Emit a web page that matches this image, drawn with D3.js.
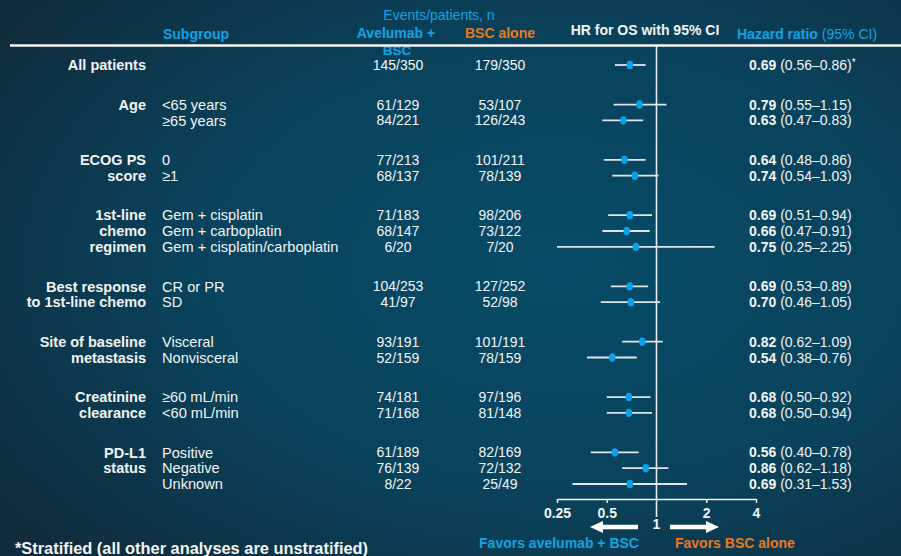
<!DOCTYPE html>
<html>
<head>
<meta charset="utf-8">
<script src="https://cdn.jsdelivr.net/npm/d3@7"></script>
<style>
  html, body { margin: 0; padding: 0; background: #0c3348; }
  svg { display: block; }
  text { font-family: "Liberation Sans", Arial, sans-serif; }
</style>
</head>
<body>
<div id="chart"></div>
<script>
// Forest plot: overall survival hazard ratios by subgroup

const groupLabels = [
  ["All patients"],
  ["Age"],
  ["ECOG PS", "score"],
  ["1st-line", "chemo", "regimen"],
  ["Best response", "to 1st-line chemo"],
  ["Site of baseline", "metastasis"],
  ["Creatinine", "clearance"],
  ["PD-L1", "status"]
];

const rowGroup = [0, 1, 1, 2, 2, 3, 3, 3, 4, 4, 5, 5, 6, 6, 7, 7, 7];

const categories = [
  "", "<65 years", "≥65 years", "0", "≥1",
  "Gem + cisplatin", "Gem + carboplatin", "Gem + cisplatin/carboplatin",
  "CR or PR", "SD", "Visceral", "Nonvisceral",
  "≥60 mL/min", "<60 mL/min", "Positive", "Negative", "Unknown"
];

const avelumabEvents = [
  "145/350", "61/129", "84/221", "77/213", "68/137",
  "71/183", "68/147", "6/20", "104/253", "41/97",
  "93/191", "52/159", "74/181", "71/168", "61/189", "76/139", "8/22"
];

const bscEvents = [
  "179/350", "53/107", "126/243", "101/211", "78/139",
  "98/206", "73/122", "7/20", "127/252", "52/98",
  "101/191", "78/159", "97/196", "81/148", "82/169", "72/132", "25/49"
];

const hazardRatio = [0.69, 0.79, 0.63, 0.64, 0.74, 0.69, 0.66, 0.75, 0.69, 0.70, 0.82, 0.54, 0.68, 0.68, 0.56, 0.86, 0.69];
const ciLower     = [0.56, 0.55, 0.47, 0.48, 0.54, 0.51, 0.47, 0.25, 0.53, 0.46, 0.62, 0.38, 0.50, 0.50, 0.40, 0.62, 0.31];
const ciUpper     = [0.86, 1.15, 0.83, 0.86, 1.03, 0.94, 0.91, 2.25, 0.89, 1.05, 1.09, 0.76, 0.92, 0.94, 0.78, 1.18, 1.53];
const stratified  = [true, false, false, false, false, false, false, false, false, false, false, false, false, false, false, false, false];

const axisTicks = [0.25, 0.5, 2, 4];

const W = 901, H = 556;
const BLUE = "#12a3e3", ORANGE = "#e8791e", WHITE = "#f2f4f5", LINE = "#e6ecef";

const svg = d3.select("#chart").append("svg")
  .attr("width", W).attr("height", H);

// background
const defs = svg.append("defs");
const grad = defs.append("radialGradient").attr("id", "bg")
  .attr("cx", "62%").attr("cy", "48%").attr("r", "75%");
grad.append("stop").attr("offset", "0%").attr("stop-color", "#074b68");
grad.append("stop").attr("offset", "55%").attr("stop-color", "#09425b");
grad.append("stop").attr("offset", "100%").attr("stop-color", "#102c3c");
svg.append("rect").attr("width", W).attr("height", H).attr("fill", "url(#bg)");

// row slots: one unit per row, extra gap between subgroups
const slots = [];
let s = 0;
rowGroup.forEach((g, i) => {
  if (i > 0) s += (g !== rowGroup[i - 1]) ? 2.5 : 1;
  slots.push(s);
});

const y = d3.scaleLinear().domain([0, slots[slots.length - 1]]).range([65, 484]);
const x = d3.scaleLog().base(2).domain([0.25, 4]).range([557, 756]);

const rows = rowGroup.map((g, i) => ({
  group: g, cat: categories[i], av: avelumabEvents[i], bsc: bscEvents[i],
  hr: hazardRatio[i], lo: ciLower[i], hi: ciUpper[i], star: stratified[i], slot: slots[i]
}));

// header
const header = svg.append("g").attr("font-size", 14);
header.append("text").attr("x", 196).attr("y", 39).attr("text-anchor", "middle")
  .attr("font-weight", "bold").attr("fill", BLUE).text("Subgroup");
header.append("text").attr("x", 439).attr("y", 20).attr("text-anchor", "middle")
  .attr("fill", BLUE).text("Events/patients, n");
header.append("text").attr("x", 396).attr("y", 38).attr("text-anchor", "middle")
  .attr("font-weight", "bold").attr("fill", BLUE).text("Avelumab +");
header.append("text").attr("x", 397).attr("y", 55).attr("text-anchor", "middle")
  .attr("font-weight", "bold").attr("font-size", 13.5).attr("fill", BLUE).text("BSC");
header.append("text").attr("x", 500).attr("y", 38).attr("text-anchor", "middle")
  .attr("font-weight", "bold").attr("fill", ORANGE).text("BSC alone");
header.append("text").attr("x", 645).attr("y", 35).attr("text-anchor", "middle")
  .attr("font-weight", "bold").attr("fill", WHITE).text("HR for OS with 95% CI");
const hrHead = header.append("text").attr("x", 737).attr("y", 39).attr("fill", BLUE);
hrHead.append("tspan").attr("font-weight", "bold").text("Hazard ratio ");
hrHead.append("tspan").text("(95% CI)");

// header rule
svg.append("line").attr("x1", 10).attr("x2", W).attr("y1", 45.5).attr("y2", 45.5)
  .attr("stroke", "#f4f6f7").attr("stroke-width", 2.6);

// subgroup labels (right-aligned, bold)
const gl = svg.append("g").attr("font-size", 14.5).attr("font-weight", "bold")
  .attr("fill", WHITE).attr("text-anchor", "end");
groupLabels.forEach((lines, g) => {
  const first = rows.find(r => r.group === g).slot;
  lines.forEach((t, k) => {
    gl.append("text").attr("x", 146).attr("y", y(first + k)).attr("dy", "0.36em").text(t);
  });
});

// row texts
const rt = svg.append("g").attr("font-size", 14).attr("fill", WHITE);
rt.selectAll("text.cat").data(rows).join("text").attr("class", "cat")
  .attr("x", 162).attr("y", d => y(d.slot)).attr("dy", "0.36em")
  .attr("font-size", 14.6).text(d => d.cat);
rt.selectAll("text.av").data(rows).join("text").attr("class", "av")
  .attr("x", 398).attr("y", d => y(d.slot)).attr("dy", "0.36em")
  .attr("text-anchor", "middle").text(d => d.av);
rt.selectAll("text.bsc").data(rows).join("text").attr("class", "bsc")
  .attr("x", 500).attr("y", d => y(d.slot)).attr("dy", "0.36em")
  .attr("text-anchor", "middle").text(d => d.bsc);

const fmt = d3.format(".2f");
const hrText = rt.selectAll("text.hr").data(rows).join("text").attr("class", "hr")
  .attr("x", 749).attr("y", d => y(d.slot)).attr("dy", "0.36em");
hrText.append("tspan").attr("font-weight", "bold").text(d => fmt(d.hr));
hrText.append("tspan").text(d => ` (${fmt(d.lo)}–${fmt(d.hi)})`);
hrText.filter(d => d.star).append("tspan").attr("font-size", 10).attr("dy", "-0.4em").text("*");

// reference line at HR = 1
svg.append("line").attr("x1", x(1)).attr("x2", x(1)).attr("y1", 46).attr("y2", 517)
  .attr("stroke", LINE).attr("stroke-width", 1.6);

// confidence intervals and point estimates
const marks = svg.append("g");
marks.selectAll("line.ci").data(rows).join("line").attr("class", "ci")
  .attr("x1", d => x(d.lo)).attr("x2", d => x(d.hi))
  .attr("y1", d => y(d.slot)).attr("y2", d => y(d.slot))
  .attr("stroke", "#dfe6ea").attr("stroke-width", 1.8);
marks.selectAll("ellipse").data(rows).join("ellipse")
  .attr("cx", d => x(d.hr)).attr("cy", d => y(d.slot))
  .attr("rx", 3.3).attr("ry", 4.2).attr("fill", "#0aa2ec");

// x axis
const axis = svg.append("g").attr("transform", "translate(0,499)")
  .call(d3.axisBottom(x).tickValues(axisTicks).tickSize(4).tickSizeOuter(0)
    .tickPadding(5).tickFormat(d => String(d)));
axis.select(".domain").attr("stroke", WHITE).attr("stroke-width", 1.5);
axis.selectAll(".tick line").attr("stroke", WHITE).attr("stroke-width", 1.5);
axis.selectAll(".tick text").attr("fill", WHITE).attr("font-size", 14)
  .attr("font-weight", "bold").attr("font-family", "'Liberation Sans', Arial, sans-serif");

svg.append("text").attr("x", x(1)).attr("y", 529).attr("text-anchor", "middle")
  .attr("font-size", 14).attr("font-weight", "bold").attr("fill", WHITE).text("1");

// direction arrows
function arrow(x0, x1, yy) {
  const dir = Math.sign(x1 - x0);
  const headLen = 13, headHalf = 6, shaft = 2.2;
  const xb = x1 - dir * headLen;
  const p = [
    [x0, yy - shaft], [xb, yy - shaft], [xb, yy - headHalf], [x1, yy],
    [xb, yy + headHalf], [xb, yy + shaft], [x0, yy + shaft]
  ];
  svg.append("path").attr("d", d3.line()(p) + "Z").attr("fill", "#ffffff");
}
arrow(638, 590, 527);
arrow(670, 719, 527);

svg.append("text").attr("x", 559).attr("y", 548).attr("text-anchor", "middle")
  .attr("font-size", 14).attr("font-weight", "bold").attr("fill", BLUE)
  .text("Favors avelumab + BSC");
svg.append("text").attr("x", 675).attr("y", 548)
  .attr("font-size", 14).attr("font-weight", "bold").attr("fill", ORANGE)
  .text("Favors BSC alone");

// footnote
svg.append("text").attr("x", 15).attr("y", 554)
  .attr("font-family", "Lato, 'Open Sans', sans-serif").attr("font-size", 16)
  .attr("font-weight", "bold").attr("fill", WHITE)
  .attr("textLength", 353).attr("lengthAdjust", "spacingAndGlyphs")
  .text("*Stratified (all other analyses are unstratified)");
</script>
</body>
</html>
